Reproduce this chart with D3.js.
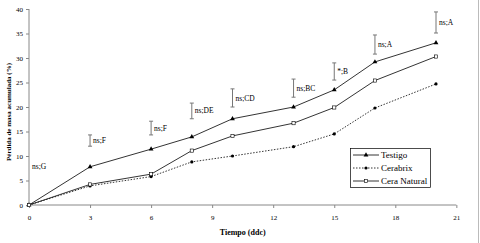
<!DOCTYPE html>
<html>
<head>
<meta charset="utf-8">
<script src="https://cdn.jsdelivr.net/npm/d3@7"></script>
<style>
  body { margin: 0; background: #fff; }
  svg text { font-family: "Liberation Serif", "DejaVu Serif", serif !important; fill: #000; }
  .tick text { font-size: 7px; }
  .axis path, .axis line { stroke: #888; }
</style>
</head>
<body>
<svg id="chart" width="480" height="243" font-family="Liberation Serif"></svg>
<script>
// days after harvest
const days = [0, 3, 6, 8, 10, 13, 15, 17, 20];
const testigo = [0, 7.8, 11.4, 13.9, 17.6, 20.0, 23.5, 29.2, 33.1];
const cerabrix = [0, 3.9, 5.8, 8.8, 10.0, 11.9, 14.5, 19.8, 24.7];
const ceraNatural = [0, 4.2, 6.3, 11.1, 14.1, 16.7, 19.9, 25.4, 30.3];

// significance bars (low, high) and labels at each sampling day
const barLow = [null, 12.0, 14.3, 17.6, 20.0, 22.0, 25.5, 30.8, 35.1];
const barHigh = [null, 14.3, 17.1, 20.8, 23.7, 25.7, 29.0, 34.7, 39.4];
const sigLabels = ["ns;G", "ns;F", "ns;F", "ns;DE", "ns;CD", "ns;BC", "*;B", "ns;A", "ns;A"];
const sigLabelY = [7.8, 13.1, 15.7, 19.2, 21.8, 23.8, 27.2, 32.7, 37.2];

const xTicks = [0, 3, 6, 9, 12, 15, 18, 21];
const yTicks = [0, 5, 10, 15, 20, 25, 30, 35, 40];

const svg = d3.select("#chart");
const margin = { left: 29, top: 9, right: 23, bottom: 38 };
const height = 243 - margin.top - margin.bottom;

const x = d3.scaleLinear().domain([0, 21]).range([0, 21 * 20.35]);
const y = d3.scaleLinear().domain([0, 40]).range([height, 0]);

// right frame line
svg.append("line")
    .attr("x1", 478.5).attr("x2", 478.5).attr("y1", 0).attr("y2", 243)
    .attr("stroke", "#bbb");

const g = svg.append("g").attr("transform", `translate(${margin.left},${margin.top})`);

g.append("g").attr("class", "axis")
    .call(d3.axisLeft(y).tickValues(yTicks).tickSize(3).tickPadding(3))
    .call(a => a.attr("font-family", null))
    .call(a => a.select(".domain").attr("d", `M0,0V${height}`));

g.append("g").attr("class", "axis")
    .attr("transform", `translate(0,${height})`)
    .call(d3.axisBottom(x).tickValues(xTicks).tickSize(3).tickPadding(7))
    .call(a => a.attr("font-family", null))
    .call(a => a.select(".domain").attr("d", `M0,0H${x(21)}`));

// axis titles
g.append("text")
    .attr("transform", `translate(-18.5,${height / 2 + 5}) rotate(-90)`)
    .attr("text-anchor", "middle")
    .attr("font-size", 7).attr("font-weight", "bold")
    .text("Pérdida de masa acumulada (%)");

g.append("text")
    .attr("x", x(10.5)).attr("y", height + 30)
    .attr("text-anchor", "middle")
    .attr("font-size", 8).attr("font-weight", "bold")
    .text("Tiempo (ddc)");

// significance bars
days.forEach((d, i) => {
  if (barLow[i] !== null) {
    const bx = x(d), y1 = y(barHigh[i]), y2 = y(barLow[i]);
    g.append("path")
        .attr("d", `M${bx},${y1}V${y2}M${bx - 2},${y1}H${bx + 2}M${bx - 2},${y2}H${bx + 2}`)
        .attr("stroke", "#777").attr("fill", "none");
  }
  g.append("text")
      .attr("x", x(d) + 3).attr("y", y(sigLabelY[i]) + 2.5)
      .attr("font-size", 7.5)
      .text(sigLabels[i]);
});

const line = d3.line().x((d, i) => x(days[i])).y(d => y(d));

const series = [
  { name: "Testigo", values: testigo, dash: null, marker: "triangle" },
  { name: "Cerabrix", values: cerabrix, dash: "1.5,1.5", marker: "circle" },
  { name: "Cera Natural", values: ceraNatural, dash: null, marker: "square" }
];

function drawMarker(sel, type, cx, cy) {
  if (type === "triangle") {
    sel.append("path")
        .attr("d", d3.symbol(d3.symbolTriangle, 10)())
        .attr("transform", `translate(${cx},${cy})`)
        .attr("fill", "#000");
  } else if (type === "circle") {
    sel.append("circle").attr("cx", cx).attr("cy", cy).attr("r", 1.6).attr("fill", "#000");
  } else {
    sel.append("rect").attr("x", cx - 1.6).attr("y", cy - 1.6)
        .attr("width", 3.2).attr("height", 3.2)
        .attr("fill", "#fff").attr("stroke", "#000").attr("stroke-width", 0.6);
  }
}

series.forEach(s => {
  g.append("path")
      .attr("d", line(s.values))
      .attr("fill", "none").attr("stroke", "#000").attr("stroke-width", 0.8)
      .attr("stroke-dasharray", s.dash);
  s.values.forEach((v, i) => drawMarker(g, s.marker, x(days[i]), y(v)));
});

// legend
const lg = svg.append("g").attr("transform", "translate(350,148)");
lg.append("rect").attr("x", 0.5).attr("y", 0.5).attr("width", 80).attr("height", 39)
    .attr("fill", "#fff").attr("stroke", "#000").attr("stroke-width", 0.7);
series.forEach((s, i) => {
  const ry = 7 + i * 13;
  lg.append("line").attr("x1", 3).attr("x2", 29).attr("y1", ry).attr("y2", ry)
      .attr("stroke", "#000").attr("stroke-width", 0.8).attr("stroke-dasharray", s.dash);
  drawMarker(lg, s.marker, 16, ry);
  lg.append("text").attr("x", 31).attr("y", ry + 3)
      .attr("font-size", 9).text(s.name);
});
</script>
</body>
</html>
